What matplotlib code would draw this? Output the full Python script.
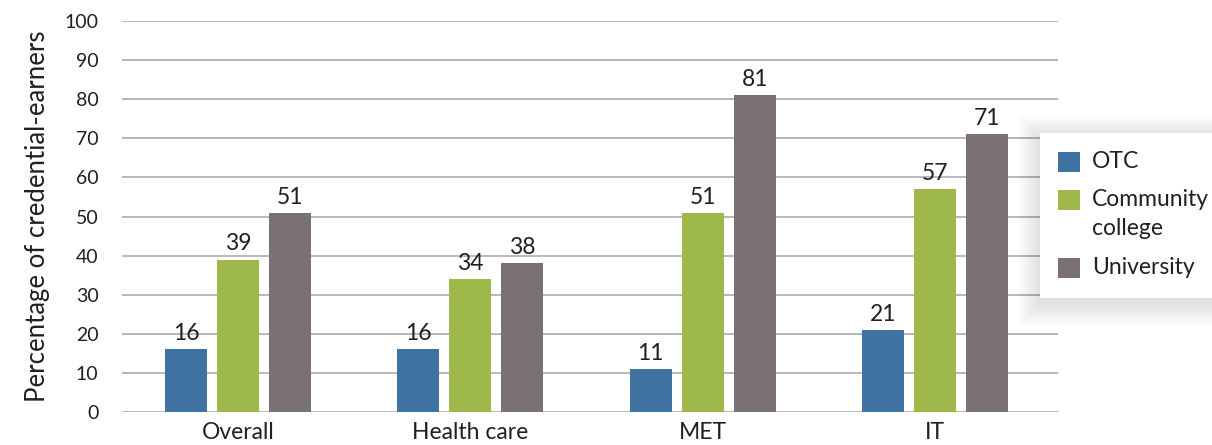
import matplotlib.pyplot as plt
import matplotlib.patches as mpatches
import numpy as np

plt.rcParams.update({
    'font.family': ['Lato', 'DejaVu Sans'],
    'font.size': 16,
    'text.color': '#231f20',
    'axes.labelcolor': '#231f20',
    'xtick.color': '#231f20',
    'ytick.color': '#231f20',
})

# data
categories = ['Overall', 'Health care', 'MET', 'IT']
series_names = ['OTC', 'Community\ncollege', 'University']
otc = [16, 16, 11, 21]
community_college = [39, 34, 51, 57]
university = [51, 38, 81, 71]
yticks = [0, 10, 20, 30, 40, 50, 60, 70, 80, 90, 100]

colors = ['#3f72a0', '#9fb84a', '#7a7272']

W, H = 1212, 445
fig = plt.figure(figsize=(W / 100, H / 100), dpi=100)
ax = fig.add_axes([122 / W, 1 - 412 / H, (1058 - 122) / W, (412 - 21) / H])

x = np.arange(len(categories))
width = 0.181
step = 0.224
for i, (vals, col) in enumerate(zip([otc, community_college, university], colors)):
    ax.bar(x + (i - 1) * step, vals, width, color=col, zorder=3)
    for xi, v in zip(x + (i - 1) * step, vals):
        ax.text(xi, v + 1.3, str(v), ha='center', va='bottom', fontsize=16.5, zorder=4)

ax.set_xlim(-0.5, 3.53)
ax.set_ylim(0, 100)
ax.set_yticks(yticks)
ax.set_xticks(x)
ax.set_xticklabels(categories, fontsize=16.5)
ax.tick_params(axis='y', length=0, labelsize=14, pad=17)
ax.tick_params(axis='x', length=0, pad=7)
ax.yaxis.grid(True, color='#b3b3b3', linewidth=1.3, zorder=0)
for s in ax.spines.values():
    s.set_visible(False)
ax.set_ylabel('Percentage of credential-earners', fontsize=18.5, labelpad=10)

# legend box with a soft shadow
lx0, ly0, lx1, ly1 = 1040 / W, 1 - 298 / H, 1.0, 1 - 133 / H
for k in range(10, 0, -1):
    d = k * 2.2
    fig.patches.append(mpatches.Rectangle(
        (lx0 - d / W, ly0 - (d + 5) / H), lx1 - lx0 + 2 * d / W, ly1 - ly0 + 2 * d / H,
        transform=fig.transFigure, facecolor='black', edgecolor='none', alpha=0.013, zorder=5))
fig.patches.append(mpatches.Rectangle((lx0, ly0), lx1 - lx0 + 0.01, ly1 - ly0,
                                      transform=fig.transFigure, facecolor='white',
                                      edgecolor='none', zorder=6))

# legend entries: first-line centre of each entry (pixels from top)
entry_rows = [162, 200, 268]
for name, col, row in zip(series_names, colors, entry_rows):
    fig.patches.append(mpatches.Rectangle((1058 / W, 1 - (row + 10) / H), 22 / W, 20 / H,
                                          transform=fig.transFigure, facecolor=col,
                                          edgecolor='none', zorder=7))
    fig.text(1092 / W, 1 - (row - 11) / H, name, ha='left', va='top', fontsize=16.5,
             linespacing=1.45, zorder=8)

fig.savefig('out.png', dpi=100)
